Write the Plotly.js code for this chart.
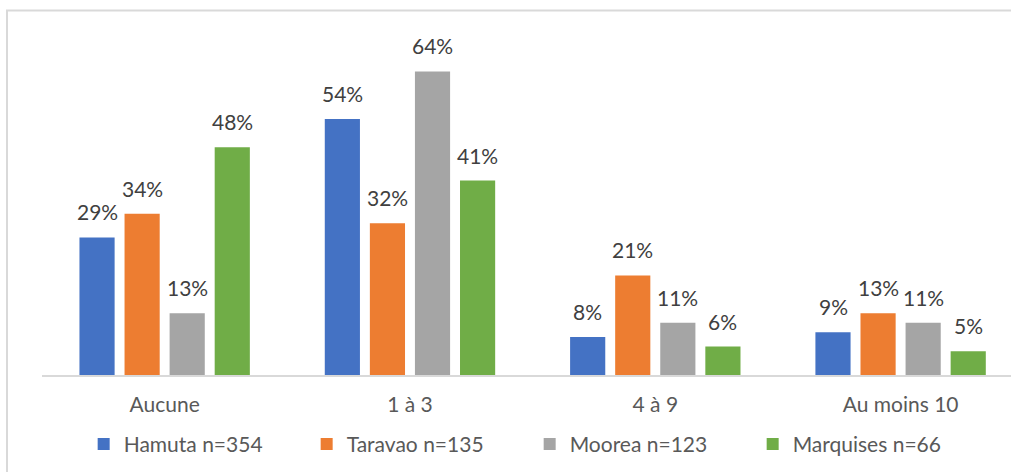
<!DOCTYPE html>
<html>
<head>
<meta charset="utf-8">
<script src="https://cdn.plot.ly/plotly-3.0.1.min.js"></script>
<style>
  html, body { margin: 0; padding: 0; background: #ffffff; overflow: hidden; }
  #chart { width: 1011px; height: 472px; }
</style>
</head>
<body>
<div id="chart"></div>
<script>
// Nombre de fois — réponses par zone (%)
const categories = ["Aucune", "1 à 3", "4 à 9", "Au moins 10"];
const seriesNames = ["Hamuta n=354", "Taravao n=135", "Moorea n=123", "Marquises n=66"];
const hamuta = [29, 54, 8, 9];
const taravao = [34, 32, 21, 13];
const moorea = [13, 64, 11, 11];
const marquises = [48, 41, 6, 5];
const colors = ["#4472C4", "#ED7D31", "#A5A5A5", "#70AD47"];

const allSeries = [hamuta, taravao, moorea, marquises];
const FONT = "Lato, 'Open Sans', sans-serif";

const traces = allSeries.map((vals, i) => ({
  type: "bar",
  name: seriesNames[i],
  x: categories,
  y: vals,
  marker: { color: colors[i], line: { width: 0 } },
  hoverinfo: "x+y+name"
}));

// Value labels placed above each bar, offset to the bar's slot in its group
const slot = 45;
const annotations = [];
allSeries.forEach((vals, i) => {
  vals.forEach((v, j) => {
    annotations.push({
      x: categories[j],
      y: v,
      xref: "x",
      yref: "y",
      text: v + "%",
      showarrow: false,
      xanchor: "center",
      yanchor: "bottom",
      xshift: (i - 1.5) * slot,
      yshift: 11,
      font: { family: FONT, size: 21, color: "#404040" }
    });
  });
});

const layout = {
  width: 1011,
  height: 472,
  margin: { l: 42, r: 0, t: 42.5, b: 97, pad: 0, autoexpand: false },
  paper_bgcolor: "#ffffff",
  plot_bgcolor: "#ffffff",
  barmode: "group",
  bargap: 0.265,
  bargroupgap: 0.22,
  font: { family: FONT, size: 21, color: "#595959" },
  xaxis: {
    type: "category",
    range: [-0.5, 3.45],
    showline: true,
    linecolor: "#d9d9d9",
    linewidth: 2,
    ticks: "",
    showgrid: false,
    zeroline: false,
    ticklabelstandoff: 10,
    tickfont: { family: FONT, size: 21, color: "#595959" },
    automargin: false,
    fixedrange: true
  },
  yaxis: {
    range: [0, 70],
    visible: false,
    showgrid: false,
    zeroline: false,
    fixedrange: true
  },
  showlegend: true,
  legend: {
    orientation: "h",
    x: 0.043,
    xanchor: "left",
    y: -0.147,
    yanchor: "top",
    entrywidth: 178,
    entrywidthmode: "pixels",
    font: { family: FONT, size: 21, color: "#595959" },
    bgcolor: "rgba(0,0,0,0)",
    traceorder: "normal"
  },
  annotations: annotations,
  shapes: [{
    type: "rect",
    xref: "paper",
    yref: "paper",
    x0: -0.0361,
    x1: 1.2,
    y0: -0.6,
    y1: 1.0977,
    line: { color: "#d9d9d9", width: 2 },
    fillcolor: "rgba(0,0,0,0)",
    layer: "below"
  }]
};

Plotly.newPlot("chart", traces, layout, { displayModeBar: false, staticPlot: true });
</script>
</body>
</html>
